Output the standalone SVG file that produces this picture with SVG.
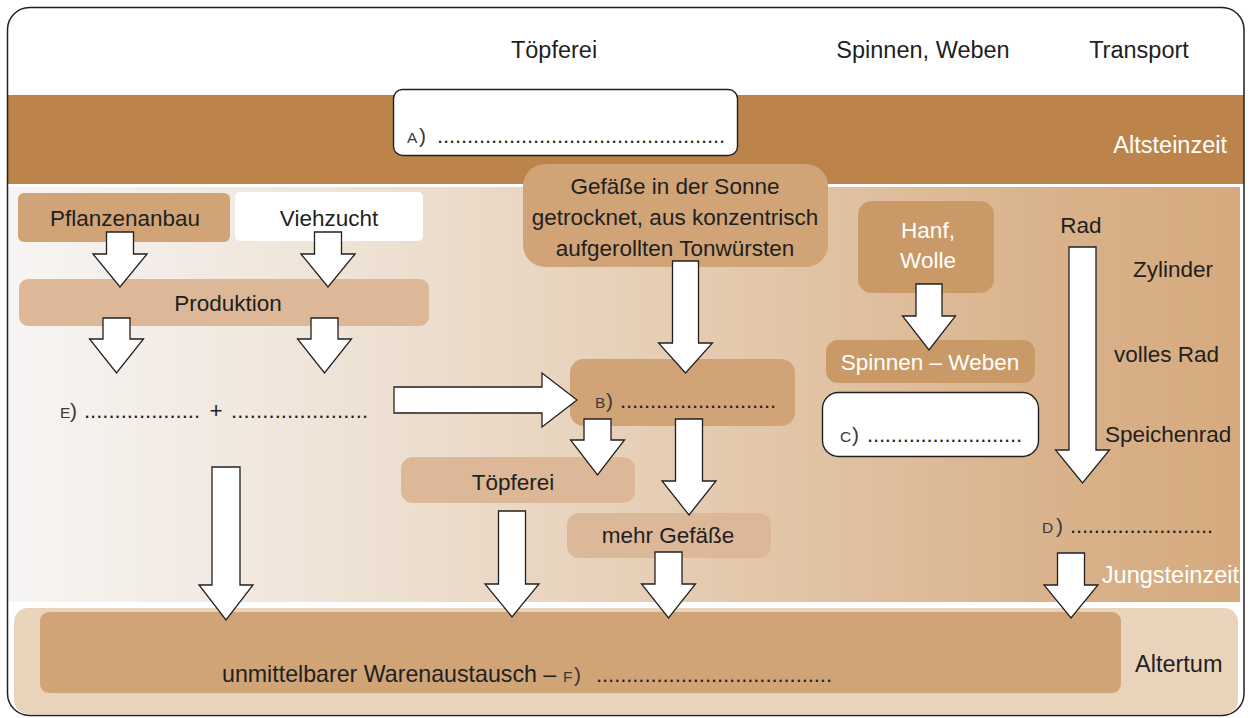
<svg xmlns="http://www.w3.org/2000/svg" width="1251" height="718" viewBox="0 0 1251 718">
<defs>
<linearGradient id="jung" x1="0" y1="0" x2="1" y2="0">
<stop offset="0" stop-color="#f7f5f4"/>
<stop offset="0.3" stop-color="#eee1d3"/>
<stop offset="0.6" stop-color="#e3c8ab"/>
<stop offset="0.85" stop-color="#d9b28b"/>
<stop offset="1" stop-color="#d6aa7e"/>
</linearGradient>
<style>
text{font-family:"Liberation Sans",Arial,sans-serif;font-size:22.5px;fill:#231f20}
.big{font-size:23.5px}
.w{fill:#ffffff}
.c{text-anchor:middle}
.lab{font-size:15.5px;fill:#3a3a3a}
.par{font-size:21px;fill:#3a3a3a}
.dot{font-size:22px}
.arr{fill:#ffffff;stroke:#231f20;stroke-width:1.3;stroke-linejoin:miter}
.b1{fill:#d0a477}
.b2{fill:#dcb898}
.b3{fill:#c99a67}
.wb{fill:#ffffff;stroke:#231f20;stroke-width:1.4}
</style>
</defs>
<rect x="0" y="0" width="1251" height="718" fill="#ffffff"/>
<g id="eras">
<rect x="7" y="95" width="1237" height="89" fill="#bc844a"/>
<rect x="8" y="187" width="1232" height="415" fill="url(#jung)"/>
<rect x="14" y="608" width="1224" height="106" rx="14" fill="#ead3bb"/>
<text class="w big" x="1227" y="153" text-anchor="end">Altsteinzeit</text>
<text class="w big" x="1239" y="583" text-anchor="end">Jungsteinzeit</text>
<text class="big" x="1135" y="672">Altertum</text>
</g>
<g id="headers">
<text class="c big" x="554" y="58">Töpferei</text>
<text class="c big" x="923" y="58">Spinnen, Weben</text>
<text class="c big" x="1139" y="58">Transport</text>
</g>
<g id="nodeA">
<rect class="wb" x="393.5" y="89.5" width="344" height="66" rx="9"/>
<text class="lab" x="407" y="143">A</text><text class="par" x="419" y="143">)</text>
<text class="dot" x="437" y="143" textLength="288" lengthAdjust="spacing">................................................</text>
</g>
<g id="nodePflanzenanbau">
<rect class="b1" x="18" y="193" width="212" height="49" rx="6"/>
<text class="c" x="125" y="226">Pflanzenanbau</text>
</g>
<g id="nodeViehzucht">
<rect fill="#ffffff" x="235" y="192" width="188" height="49" rx="5"/>
<text class="c" x="329" y="226">Viehzucht</text>
</g>
<g id="nodeProduktion">
<rect class="b2" x="19" y="279" width="410" height="47" rx="9"/>
<text class="c" x="228" y="311">Produktion</text>
</g>
<g id="nodeE">
<text class="lab" x="60" y="418">E</text><text class="par" x="70" y="418">)</text>
<text class="dot" x="84" y="418" textLength="116" lengthAdjust="spacing">...................</text>
<text x="216" y="418" class="c">+</text>
<text class="dot" x="231" y="418" textLength="137" lengthAdjust="spacing">......................</text>
</g>
<g id="nodeGefaesse">
<rect class="b1" x="523" y="164" width="305" height="103" rx="22"/>
<text class="c" x="675" y="194">Gefäße in der Sonne</text>
<text class="c" x="675" y="225">getrocknet, aus konzentrisch</text>
<text class="c" x="675" y="256">aufgerollten Tonwürsten</text>
</g>
<g id="nodeB">
<rect class="b1" x="570" y="359" width="225" height="67" rx="14"/>
<text class="lab" x="595" y="408">B</text><text class="par" x="606" y="408">)</text>
<text class="dot" x="620" y="408" textLength="156" lengthAdjust="spacing">..........................</text>
</g>
<g id="nodeToepferei">
<rect class="b2" x="401" y="457" width="234" height="46" rx="12"/>
<text class="c" x="513" y="490">Töpferei</text>
</g>
<g id="nodeMehrGefaesse">
<rect class="b2" x="567" y="513" width="204" height="45" rx="12"/>
<text class="c" x="668" y="543">mehr Gefäße</text>
</g>
<g id="nodeHanf">
<rect class="b3" x="858" y="201" width="136" height="92" rx="14"/>
<text class="c w" x="928" y="238">Hanf,</text>
<text class="c w" x="928" y="268">Wolle</text>
</g>
<g id="nodeSpinnen">
<rect class="b3" x="826" y="340" width="209" height="43" rx="12"/>
<text class="c w" x="930" y="370">Spinnen – Weben</text>
</g>
<g id="nodeC">
<rect class="wb" x="822.5" y="392.5" width="216" height="64" rx="16"/>
<text class="lab" x="840" y="442">C</text><text class="par" x="852" y="442">)</text>
<text class="dot" x="867" y="442" textLength="155" lengthAdjust="spacing">..........................</text>
</g>
<g id="nodeTransport">
<text x="1081" y="233" class="c">Rad</text>
<text x="1133" y="277">Zylinder</text>
<text x="1114" y="362">volles Rad</text>
<text x="1105" y="442">Speichenrad</text>
</g>
<g id="nodeD">
<text class="lab" x="1042" y="533">D</text><text class="par" x="1056" y="533">)</text>
<text class="dot" x="1070" y="533" textLength="143" lengthAdjust="spacing">........................</text>
</g>
<g id="nodeAltertum">
<rect class="b1" x="40" y="612" width="1081" height="81" rx="9"/>
<text x="222" y="682" style="font-size:23.2px">unmittelbarer Warenaustausch –</text>
<text class="lab" x="563" y="682">F</text><text class="par" x="574" y="682">)</text>
<text class="dot" x="596" y="682" textLength="236" lengthAdjust="spacing">.......................................</text>
</g>
<g id="connectors">
<path class="arr" d="M106.5,232 H133.5 V254 H147 L120,287 L93,254 H106.5 Z"/>
<path class="arr" d="M314.5,232 H341.5 V254 H355 L328,287 L301,254 H314.5 Z"/>
<path class="arr" d="M103,318 H130 V339 H143.5 L116.5,373 L89.5,339 H103 Z"/>
<path class="arr" d="M311,318 H338 V339 H351.5 L324.5,373 L297.5,339 H311 Z"/>
<path class="arr" d="M394,387 H542 V373 L577,400 L542,427 V413 H394 Z"/>
<path class="arr" d="M672.5,261 H698.5 V343 H712.5 L685.5,373 L658.5,343 H672.5 Z"/>
<path class="arr" d="M584,419 H611 V440 H624.5 L597.5,475 L570.5,440 H584 Z"/>
<path class="arr" d="M675.5,419 H702.5 V481 H716 L689,515 L662,481 H675.5 Z"/>
<path class="arr" d="M655,552 H682 V584 H695.5 L668.5,618 L641.5,584 H655 Z"/>
<path class="arr" d="M498.5,511 H525.5 V584 H539 L512,617 L485,584 H498.5 Z"/>
<path class="arr" d="M212,467 H240 V585 H253 L226,620 L199,585 H212 Z"/>
<path class="arr" d="M916,284 H942 V316 H955.5 L929,350 L902.5,316 H916 Z"/>
<path class="arr" d="M1069,247 H1096 V450 H1109.5 L1082.5,483 L1055.5,450 H1069 Z"/>
<path class="arr" d="M1057.5,553 H1084.5 V585 H1098 L1071,618 L1044,585 H1057.5 Z"/>
</g>
<rect x="7.5" y="7.5" width="1236.5" height="708" rx="22" fill="none" stroke="#231f20" stroke-width="1.5"/>
</svg>
